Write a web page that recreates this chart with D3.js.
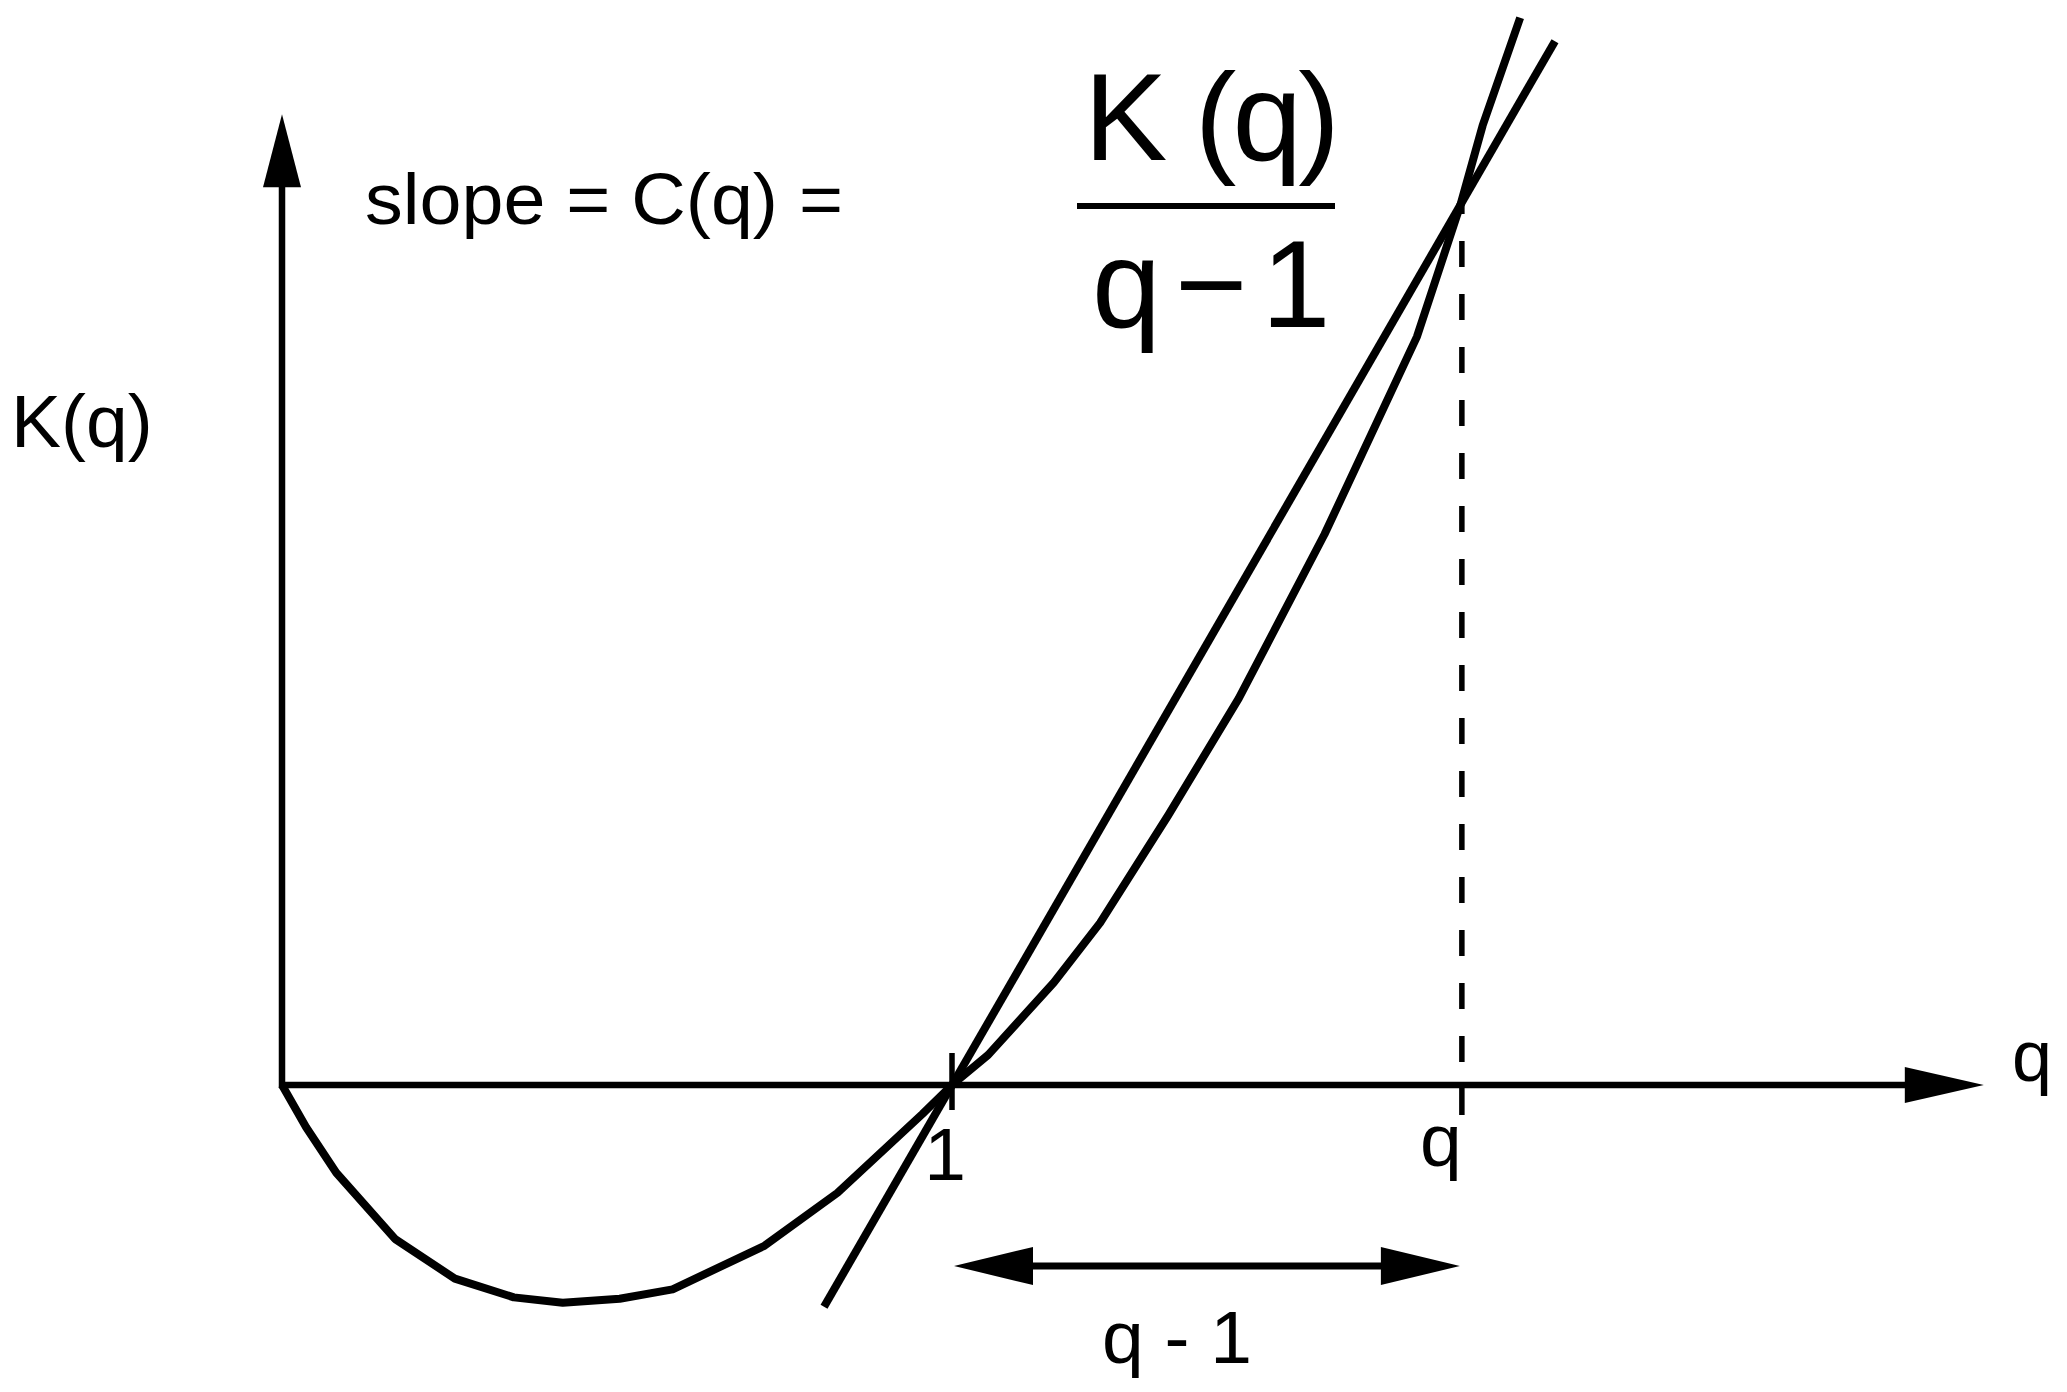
<!DOCTYPE html>
<html lang="en">
<head>
<meta charset="utf-8">
<title>K(q) and C(q)</title>
<script src="https://cdnjs.cloudflare.com/ajax/libs/d3/7.8.5/d3.min.js"></script>
<style>
  body { margin: 0; background: #fff; }
  svg { display: block; }
  text { font-family: "Liberation Sans", Arial, sans-serif; fill: #000; }
</style>
</head>
<body>
<svg width="2067" height="1392"></svg>
<script>
// K(q) curve (q, K in axis units, 1 unit = distance 0..1)
var curveQ = [0, 0.036, 0.081, 0.169, 0.258, 0.346, 0.419, 0.504, 0.583, 0.720, 0.829, 0.956,
              1.000, 1.054, 1.152, 1.221, 1.323, 1.428, 1.556, 1.694, 1.759, 1.792, 1.848];
var curveK = [0, -0.063, -0.131, -0.230, -0.289, -0.317, -0.325, -0.319, -0.305, -0.240, -0.161, -0.043,
              0.000, 0.045, 0.153, 0.242, 0.403, 0.577, 0.822, 1.117, 1.314, 1.432, 1.593];

// chord through (1, 0) and (q, K(q))
var chordQ = [0.809, 1.900];
var chordK = [-0.331, 1.558];

var qVal = 1.761, kAtQ = 1.315;
var tickValues = [1, qVal];
var tickLabels = ["1", "q"];
var xMax = 2.54, yMax = 1.449;

var svg = d3.select("svg");

var x = d3.scaleLinear().domain([0, 1]).range([282, 952]);
var y = d3.scaleLinear().domain([0, 1]).range([1085, 415]);

function arrowHead(tx, ty, dir, len, half) {
  // dir: "up", "right", "left"
  var p;
  if (dir === "up") p = [[tx, ty], [tx - half, ty + len], [tx + half, ty + len]];
  else if (dir === "right") p = [[tx, ty], [tx - len, ty - half], [tx - len, ty + half]];
  else p = [[tx, ty], [tx + len, ty - half], [tx + len, ty + half]];
  svg.append("path").attr("d", "M" + p.join("L") + "Z").attr("fill", "#000");
}

// axes
svg.append("line")
  .attr("x1", x(0) - 3).attr("y1", y(0)).attr("x2", x(xMax) - 75).attr("y2", y(0))
  .attr("stroke", "#000").attr("stroke-width", 6.5);
arrowHead(x(xMax), y(0), "right", 79, 18);

svg.append("line")
  .attr("x1", x(0)).attr("y1", y(0) + 3).attr("x2", x(0)).attr("y2", y(yMax) + 70)
  .attr("stroke", "#000").attr("stroke-width", 6.5);
arrowHead(x(0), y(yMax), "up", 73, 19);

// ticks
svg.append("line")
  .attr("x1", x(1)).attr("x2", x(1)).attr("y1", y(0) - 32).attr("y2", y(0) + 25)
  .attr("stroke", "#000").attr("stroke-width", 5.5);
svg.append("line")
  .attr("x1", x(qVal)).attr("x2", x(qVal)).attr("y1", y(0)).attr("y2", y(0) + 30)
  .attr("stroke", "#000").attr("stroke-width", 5.5);

// dashed drop line from K(q)
svg.append("line")
  .attr("x1", x(qVal)).attr("x2", x(qVal)).attr("y1", y(kAtQ)).attr("y2", y(0))
  .attr("stroke", "#000").attr("stroke-width", 5.5)
  .attr("stroke-dasharray", "26,27").attr("stroke-dashoffset", 16);

// tick labels
svg.selectAll(".tlab")
  .data(tickValues)
  .enter().append("text")
  .attr("class", "tlab")
  .attr("x", function(d, i) { return x(d) + (i === 0 ? -7 : -21); })
  .attr("y", function(d, i) { return i === 0 ? 1180 : 1166; })
  .attr("text-anchor", "middle")
  .style("font-size", "75px")
  .text(function(d, i) { return tickLabels[i]; });

// curve
var line = d3.line()
  .x(function(d) { return x(d[0]); })
  .y(function(d) { return y(d[1]); });

svg.append("path")
  .datum(d3.zip(curveQ, curveK))
  .attr("d", line)
  .attr("fill", "none").attr("stroke", "#000").attr("stroke-width", 8)
  .attr("stroke-linejoin", "round");

svg.append("path")
  .datum(d3.zip(chordQ, chordK))
  .attr("d", line)
  .attr("fill", "none").attr("stroke", "#000").attr("stroke-width", 8);

// q - 1 double arrow
var ay = 1266;
svg.append("line")
  .attr("x1", x(1) + 70).attr("x2", x(qVal) - 70).attr("y1", ay).attr("y2", ay)
  .attr("stroke", "#000").attr("stroke-width", 7);
arrowHead(x(1) + 2, ay, "left", 79, 19);
arrowHead(x(qVal) - 2, ay, "right", 79, 19);

svg.append("text")
  .attr("x", 1102).attr("y", 1363)
  .style("font-size", "75px")
  .text("q - 1");

// axis labels
svg.append("text")
  .attr("x", 11).attr("y", 447)
  .style("font-size", "75px")
  .text("K(q)");

svg.append("text")
  .attr("x", 2012).attr("y", 1081)
  .style("font-size", "72px")
  .text("q");

// slope formula
svg.append("text")
  .attr("x", 365).attr("y", 224)
  .attr("textLength", 478).attr("lengthAdjust", "spacingAndGlyphs")
  .style("font-size", "72px")
  .text("slope = C(q) =");

svg.append("text")
  .attr("x", 1084).attr("y", 160)
  .attr("textLength", 256).attr("lengthAdjust", "spacing")
  .style("font-size", "125px")
  .text("K (q)");

svg.append("line")
  .attr("x1", 1077).attr("x2", 1335).attr("y1", 206).attr("y2", 206)
  .attr("stroke", "#000").attr("stroke-width", 6);

svg.append("text")
  .attr("x", 1092).attr("y", 327)
  .style("font-size", "124px")
  .style("letter-spacing", "14px")
  .text("q\u22121");
</script>
</body>
</html>
